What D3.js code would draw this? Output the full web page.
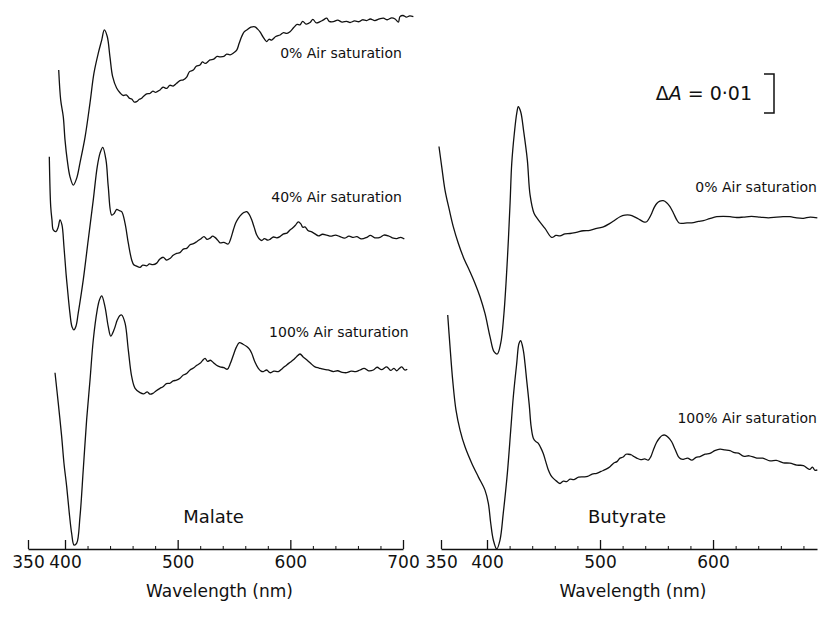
<!DOCTYPE html>
<html>
<head>
<meta charset="utf-8">
<script src="https://cdn.jsdelivr.net/npm/d3@7"></script>
<style>
body { margin: 0; background: #fff; }
svg text { font-family: "DejaVu Sans", sans-serif; fill: #111; }
</style>
</head>
<body>
<main></main>
<script>
const width = 821;
const height = 622;

// [wavelength nm, difference absorbance in mA (0.001 A units)]
const malate0 = [[391.5,122.8],[394.2,115.1],[397.7,110.8],[400,104.9],[402,99.7],[404.4,95.5],[407.4,93.3],[410.4,95.1],[413.3,99],[417.8,105.6],[422.2,114.4],[425.7,122],[429.6,127.2],[432.6,130.5],[434.9,133.1],[437.5,131.4],[439.9,126.2],[442.3,121.1],[445.8,118.2],[448.8,117],[451.5,116.3],[454.7,116.4],[457,115.6],[459.2,115.4],[461.5,114.6],[463.6,114.7],[466,115.3],[468.1,115.6],[470.5,116.3],[472.5,116.7],[475.4,116.8],[478,117.4],[480.5,117.1],[484.3,117.7],[487,118.4],[490.3,118.1],[493,118.9],[496,118.7],[499.1,119.4],[502,120.1],[505,120.3],[508,121],[510.5,122.4],[513.9,122.8],[516.5,123.8],[519.8,124.1],[522,124.9],[524.5,124.5],[528.7,125.4],[532,125.6],[535,126.3],[537.6,126.2],[541,126.3],[543.5,126.9],[546.5,126.7],[549.5,127.2],[552.4,127.9],[554.5,129.6],[556.8,131.4],[559,132.6],[561.3,133.1],[565,133.8],[568.6,133.9],[571,133.3],[573.1,132.6],[576,131.2],[579,130.1],[581,130.7],[583.5,130.5],[587,131.4],[590.9,131.8],[594,132.4],[597,132.2],[599.7,132.6],[603,133.7],[606,134.5],[608.6,134.4],[611,135.3],[614,134.6],[617.5,135],[620,135.8],[623,134.9],[626.4,135.2],[629,135.6],[632.3,136.1],[634.5,135.3],[638.2,135.2],[642,135.6],[646,135.1],[650,135.3],[653,135],[657,135.4],[661,135.2],[664,135.7],[667.8,135.5],[671,135.9],[675,135.5],[679,135.9],[682.6,136.1],[686,135.7],[690,136.2],[693,135.9],[695.9,135.1],[697.3,136.5],[700,136.8],[703,136.4],[706,136.7],[709.2,136.5]];

const malate40 = [[378.8,100.6],[380.7,87.8],[382.4,84.4],[384.2,81.8],[387.8,81.4],[390.9,82.6],[393.2,84.4],[395.9,83.1],[398.6,77.5],[400.9,70.7],[402,67.3],[404.4,60.4],[406.2,57],[407.9,56.2],[409.8,57.2],[411.7,60.4],[416.2,69],[420.6,79.2],[425.1,89.5],[428.6,98],[431.1,101.5],[433.5,103],[436.4,99.7],[438.4,92.9],[441.5,85.6],[443.8,86.1],[445.9,87.1],[448,86.8],[450.3,86.5],[453.3,83.5],[456.2,78.4],[459.2,74.1],[461,72.9],[463.1,72.6],[466.6,72.2],[469,72.8],[472.5,72.6],[475,73.1],[478,72.9],[481.4,73.3],[484,74.3],[487.3,74.8],[490,74.1],[493.2,74.5],[496,75.3],[499.1,75.8],[502,76],[505,76.9],[508,77.1],[511,78],[514,78.3],[516.9,78.8],[520,79.4],[523.4,80.1],[526,79.4],[528.7,79.7],[531,80.2],[533.1,79.9],[535.5,79.2],[537.6,78.5],[541,78.6],[544.9,78.2],[547,79.5],[549.4,81.8],[551.5,83.6],[553.8,84.8],[557,85.9],[559,86.3],[561.3,86.5],[563.5,85.8],[565.7,84.4],[568,82.4],[570.2,80.5],[572.5,79.5],[574.6,79.1],[577,79.6],[580,79.2],[582,79.4],[585,80],[588,79.8],[590.8,80.1],[594,80.8],[597,81],[599.7,81.8],[602,82.3],[604.5,83],[607.1,83.9],[609.5,83.3],[611,82.5],[613,82.6],[616,81.6],[619,81.3],[621.9,80.8],[625,80.3],[628.5,80.7],[632.3,80.5],[636,80.2],[640,80.5],[644.1,80.1],[648,79.7],[652,80.2],[655.9,79.9],[659,80.1],[663,79.5],[667.8,79.9],[671,80.4],[675,79.8],[679.6,79.9],[683,80.5],[687,80.3],[690.5,79.8],[694.4,79.6],[698,79.9],[701.2,79.5]];

const malate100 = [[386.5,45.2],[390.9,37.4],[395.5,28.8],[398.6,22],[401.5,16],[403.8,9.2],[405.9,4],[408,1],[410.4,1.5],[413.3,8.3],[416.2,20.3],[419.2,33.1],[422.2,43.3],[425.1,53.6],[428.6,61.3],[430.5,63.8],[432.6,64.9],[435.5,62.1],[438.4,57],[440.6,54.6],[443.5,56.2],[446.4,58.7],[448.5,59.8],[450.3,60],[453.3,57.9],[456.2,51],[459.2,44.2],[462.2,41.2],[466.6,40.1],[470,39.8],[473,40.3],[475.4,39.7],[478,39.9],[481,40.6],[484.3,41.2],[487,41.6],[490,42.4],[493.2,42.5],[496,43.1],[499,43.3],[502.1,43.8],[505,44.6],[508,45],[511,45.9],[514,46.4],[517,47.1],[519.8,47.6],[522,48.3],[524.3,48.9],[526.5,48.1],[529,48.4],[531.6,47.8],[534.5,47.1],[537.6,46.7],[541,46.5],[544.1,46.1],[546.8,47.6],[549.4,49.7],[552,51.7],[554.7,52.9],[558,52.5],[561.3,51.9],[563.5,51.3],[565.7,50.2],[568.5,48],[571.6,46.3],[574,45.6],[576.1,45.5],[579,45.9],[582,45.2],[585.5,45.6],[589.4,45.5],[593,46.3],[596.8,47.2],[599.5,47.8],[602.7,48.5],[605.5,49.3],[608.6,50],[611.5,49.2],[614.5,48.5],[618,47.6],[621.9,46.7],[625.5,46.4],[629.3,46.1],[633.5,45.9],[638.2,45.5],[642,45.7],[646,45.3],[650,45.2],[654,45.6],[658,45.5],[661.8,45.9],[665.5,46.3],[669.5,45.7],[673.7,45.9],[677,46.6],[681,46],[685.5,46.7],[689,45.8],[692,46.3],[694.4,45.7],[696.5,46.2],[698.9,46.7],[701.5,45.9],[703.8,46.1]];

const butyrate0 = [[347.8,103.2],[350.8,98],[354.3,92.1],[359,87],[363.4,82.6],[368.8,78.4],[374.2,74.9],[381.5,71.1],[387,68.1],[392.4,64.7],[397.8,60.4],[402.7,54.4],[406.2,50.6],[409.1,50],[412.1,52.7],[415,60.4],[418,74.1],[420.4,88.6],[421.9,98.9],[424.2,106.6],[426.3,111.7],[427.7,113.4],[429.8,112.1],[432.5,107],[435.7,99.7],[438.1,90.8],[441.6,86.1],[445.4,84.4],[451.3,82.2],[457.3,79.9],[461,80.4],[464.6,80.3],[469,80.8],[473.5,80.9],[479,81.2],[485.2,81.6],[491,81.7],[497.1,82.2],[503,82.6],[508.8,83.5],[513,84.3],[517.7,85.2],[522,85.6],[526.5,85.6],[531,85.1],[535.4,84.4],[538.5,83.9],[541.3,83.9],[543.5,84.8],[545.8,86.1],[548,87.6],[550.2,88.6],[553,89.2],[556,89.3],[559,88.8],[561.9,87.8],[565,86.1],[567.9,84.4],[570,83.6],[572.3,83.5],[577,83.6],[582.6,83.7],[587,84],[591.4,84.2],[597,84.7],[603.3,85.2],[609,85.3],[615,85.2],[621,85],[626.8,85.1],[634,85.3],[641.6,85.1],[649,84.9],[656.4,85.1],[662,85.2],[668.1,85.2],[674,84.9],[679.9,84.8],[686,85.1],[692.3,84.9]];

const butyrate100 = [[357.3,60],[359.8,51.9],[362.7,43.3],[366.3,35.6],[370.7,30.5],[376.1,26.2],[383.4,22],[390.6,18.5],[397.8,15.1],[401.2,11.7],[403.3,6.6],[405.6,2.3],[408.6,0],[411.5,2.3],[414.4,9.2],[418,19.4],[421,30.5],[423.3,39.1],[426.3,47.6],[428.3,52.7],[429.8,53.4],[432.1,51],[433.6,47.6],[435.1,43.3],[437.4,36.9],[439,31.5],[441,28.4],[443,27.6],[445.4,27.1],[447.5,26],[449.8,24.5],[452,22.4],[454.2,20.3],[456.5,18.9],[458.7,18.1],[461.5,17.4],[464.6,16.8],[467.5,17.4],[470.5,17.3],[473.5,17.9],[477,17.8],[481,18.4],[485.2,18.5],[489,18.6],[493,19.2],[497.1,19.4],[501,19.9],[505,20.4],[508.8,21.1],[512,22],[515,22.4],[517.7,23.3],[520.5,23.6],[523,24.3],[525,24.3],[528,24.1],[530,23.7],[532.5,23.3],[536,22.9],[539.5,23.1],[542.7,22.8],[545,23.7],[547.2,25.4],[550,27.3],[552.5,28.4],[555,29.1],[557.5,29.2],[560.5,28.6],[563.4,27.5],[566.5,25.5],[569.3,23.7],[571.5,23.1],[573.7,23],[577.5,23.3],[581.2,22.8],[585,23.5],[588.5,23.7],[593,24.3],[597.3,24.5],[601.5,25.2],[606.2,25.6],[610.5,25.4],[615,25.2],[619,24.7],[622.5,24.6],[626.8,23.8],[632,23.9],[638.7,23.3],[644,23.3],[650.4,22.6],[656,22.7],[662.2,22.1],[668,22],[674.1,21.5],[680,21.4],[684,20.6],[685.8,20.4],[688,21],[690,20.2],[692.3,20.3]];

const majorTicksLeft = [350, 400, 500, 600, 700];
const majorTicksRight = [350, 400, 500, 600];
const minorTicks = [420, 440, 460, 480, 520, 540, 560, 580, 620, 640, 660, 680];

// trace labels: text, wavelength of right edge, mA of baseline
const malateLabels = [["0% Air saturation", 699, 125.9], ["40% Air saturation", 699, 89], ["100% Air saturation", 705, 54.4]];
const butyrateLabels = [["0% Air saturation", 692, 91.5], ["100% Air saturation", 692, 32.3]];

const scaleBarSize = 10; // mA -> ΔA = 0.01
const scaleBarBottom = 111.8;

const svg = d3.select("main")
              .append("svg")
              .attr("width", width)
              .attr("height", height)
              .style("display", "block");

svg.append("rect").attr("width", width).attr("height", height).attr("fill", "#fff");

const yScale = d3.scaleLinear()
                 .domain([0, 140])
                 .range([549, 3]);

const panels = [
    {name: "Malate", domain: [350, 400, 700], range: [28, 65, 403], ticks: majorTicksLeft,
     traces: [malate0, malate40, malate100], labels: malateLabels},
    {name: "Butyrate", domain: [350, 400, 692], range: [441, 487, 817], ticks: majorTicksRight,
     traces: [butyrate0, butyrate100], labels: butyrateLabels}
];

const line = (xScale) => d3.line()
                           .x(d => xScale(d[0]))
                           .y(d => yScale(d[1]))
                           .curve(d3.curveCatmullRom.alpha(0.5));

const drawPanel = (p) => {
    const xScale = d3.scaleLinear().domain(p.domain).range(p.range);
    const g = svg.append("g");

    g.selectAll("path.trace")
     .data(p.traces)
     .enter()
     .append("path")
     .attr("class", "trace")
     .attr("d", d => line(xScale)(d))
     .attr("fill", "none")
     .attr("stroke", "#111")
     .attr("stroke-width", 1.3)
     .attr("stroke-linejoin", "round");

    const axis = g.append("g")
                  .attr("transform", `translate(0, ${yScale(0)})`)
                  .call(d3.axisBottom(xScale)
                          .tickValues(p.ticks)
                          .tickSize(-9)
                          .tickSizeOuter(0)
                          .tickPadding(7));
    axis.select(".domain").attr("stroke", "#111").attr("stroke-width", 1.5);
    axis.selectAll(".tick line").attr("stroke", "#111").attr("stroke-width", 1.3);
    axis.selectAll(".tick text")
        .attr("fill", "#111")
        .style("font-family", "'DejaVu Sans', sans-serif")
        .style("font-size", "17px");

    const minor = g.append("g")
                   .attr("transform", `translate(0, ${yScale(0)})`)
                   .call(d3.axisBottom(xScale)
                           .tickValues(minorTicks)
                           .tickSize(-3)
                           .tickFormat(""));
    minor.select(".domain").remove();
    minor.selectAll(".tick line").attr("stroke", "#111").attr("stroke-width", 1);

    g.selectAll("text.lbl")
     .data(p.labels)
     .enter()
     .append("text")
     .attr("class", "lbl")
     .attr("x", d => xScale(d[1]))
     .attr("y", d => yScale(d[2]))
     .attr("text-anchor", "end")
     .style("font-size", "14px")
     .text(d => d[0]);

    const mid = (xScale(p.domain[0]) + xScale(p.domain[2])) / 2;
    g.append("text")
     .attr("x", mid - 2)
     .attr("y", yScale(0) - 26)
     .attr("text-anchor", "middle")
     .style("font-size", "18px")
     .text(p.name);

    g.append("text")
     .attr("x", mid + 4)
     .attr("y", yScale(0) + 48)
     .attr("text-anchor", "middle")
     .style("font-size", "17px")
     .text("Wavelength (nm)");
};

panels.forEach(drawPanel);

// ΔA scale bar
const barX = 774;
const bar = d3.path();
bar.moveTo(barX - 10, yScale(scaleBarBottom + scaleBarSize));
bar.lineTo(barX, yScale(scaleBarBottom + scaleBarSize));
bar.lineTo(barX, yScale(scaleBarBottom));
bar.lineTo(barX - 10, yScale(scaleBarBottom));
svg.append("path")
   .attr("d", bar.toString())
   .attr("fill", "none")
   .attr("stroke", "#111")
   .attr("stroke-width", 1.5);

const barText = svg.append("text")
                   .attr("x", barX - 22)
                   .attr("y", yScale(scaleBarBottom + scaleBarSize / 2) + 7)
                   .attr("text-anchor", "end")
                   .style("font-size", "19px");
barText.append("tspan").text("Δ");
barText.append("tspan").style("font-style", "italic").text("A");
barText.append("tspan").text(" = 0·01");
</script>
</body>
</html>
